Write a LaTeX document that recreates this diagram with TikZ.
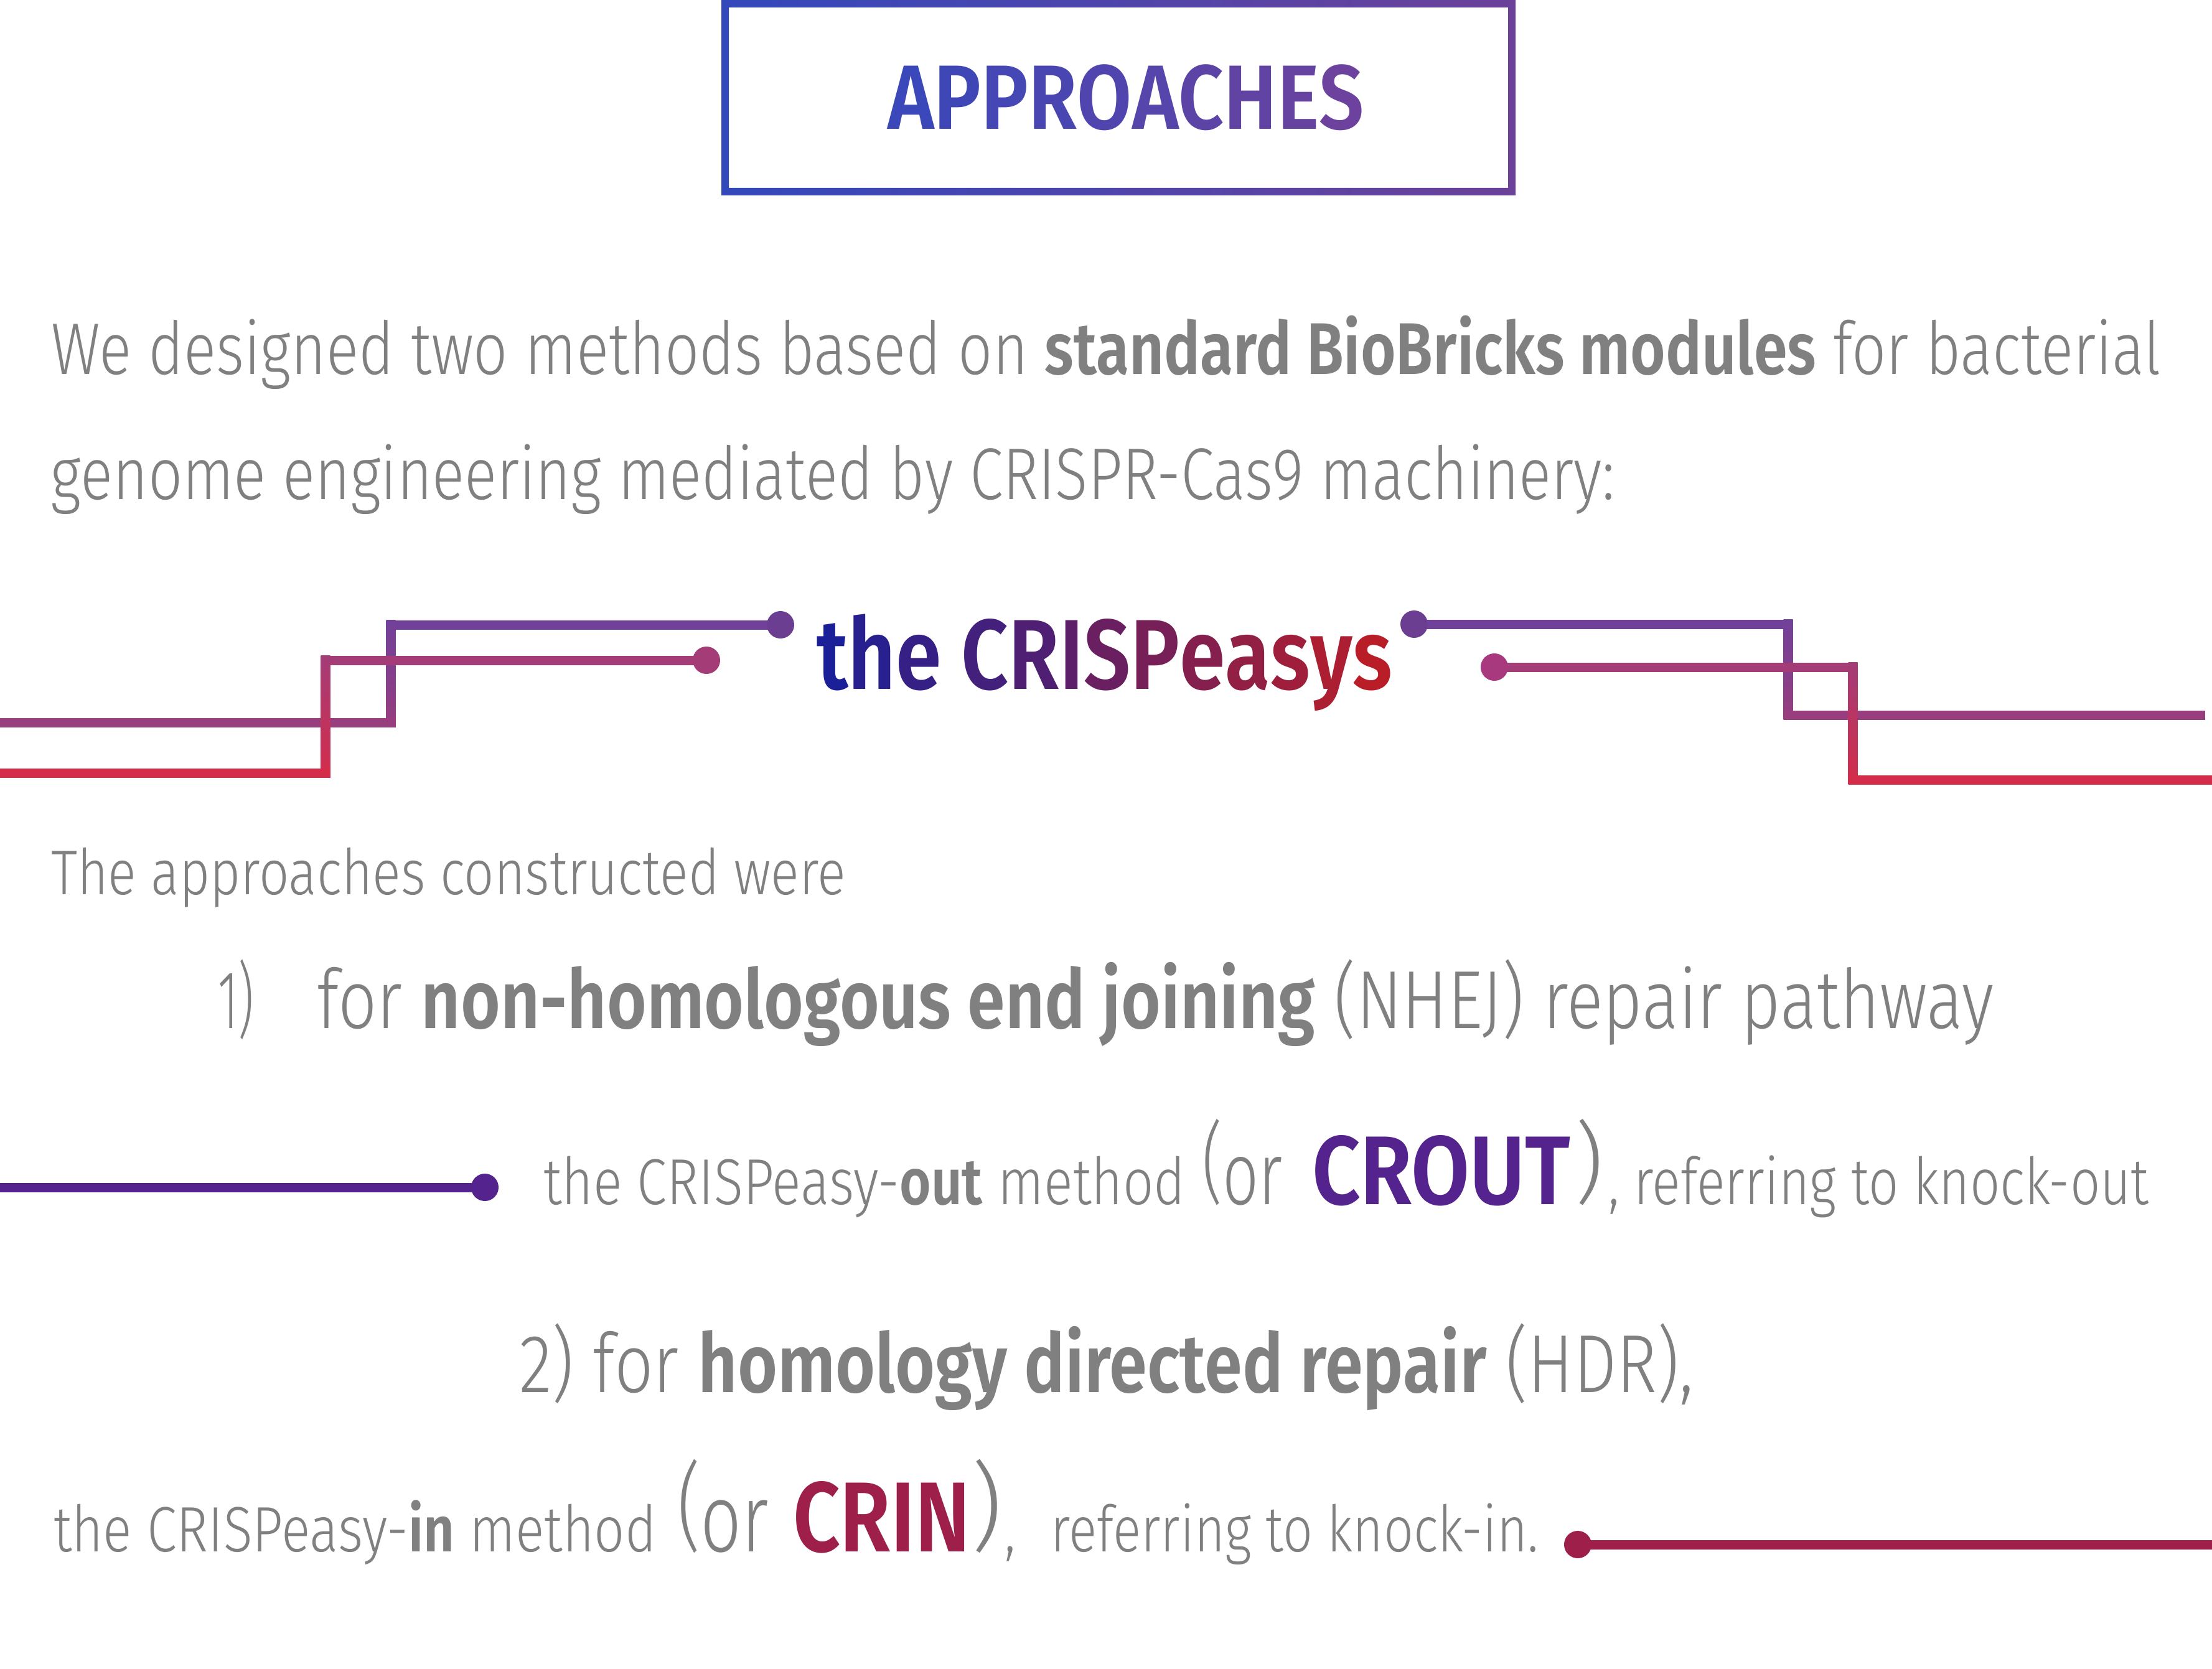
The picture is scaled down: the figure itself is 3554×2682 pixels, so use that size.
\documentclass[tikz,border=0pt]{standalone}
\usepackage{fontspec}
\setmainfont{Fira Sans Light}[BoldFont={Fira Sans SemiBold}]
\usepackage{graphicx}
\usetikzlibrary{calc}
\definecolor{txtgray}{RGB}{128,128,128}
\definecolor{gA}{RGB}{27,32,152}
\definecolor{gB}{RGB}{185,30,40}
\definecolor{apA}{RGB}{58,72,186}
\definecolor{apB}{RGB}{108,66,158}
\definecolor{frA}{RGB}{51,72,187}
\definecolor{frB}{RGB}{107,65,153}
\definecolor{purpTop}{RGB}{113,65,154}
\definecolor{purpBot}{RGB}{152,61,126}
\definecolor{pinkTop}{RGB}{163,60,119}
\definecolor{pinkBot}{RGB}{212,45,74}
\definecolor{croutc}{RGB}{85,35,141}
\definecolor{crinc}{RGB}{158,31,74}
\newcommand\myfit[3]{\resizebox{#1}{\height}{\fontsize{#2}{#2}\selectfont #3}}
\newcommand\mysz[2]{{\fontsize{#1}{#1}\selectfont #2}}
\newcommand\uppar[1]{\raisebox{0.12em}{#1}}
\tikzset{
  txt/.style={anchor=base west, inner sep=0pt, outer sep=0pt, text=txtgray},
  hline/.style={line width=0.15cm},
}
\begin{document}
\begin{tikzpicture}[x=0.01cm,y=-0.01cm]
\useasboundingbox (0,0) rectangle (3554,2682);
\fill[white] (0,0) rectangle (3554,2682);

% ---- title frame
\coordinate (frtl) at (1159,0); \coordinate (frbr) at (2435,314);
\coordinate (fitl) at (1171,12); \coordinate (fibr) at (2423,302);
\shade[left color=frA, right color=frB, even odd rule] (frtl) rectangle (frbr) (fitl) rectangle (fibr);
\node[txt] (title) at (1426,208) {\myfit{7.65cm}{41.7pt}{\bfseries
  \textcolor{apA}{A}\textcolor{apA!89!apB}{P}\textcolor{apA!78!apB}{P}\textcolor{apA!67!apB}{R}\textcolor{apA!56!apB}{O}\textcolor{apA!44!apB}{A}\textcolor{apA!33!apB}{C}\textcolor{apA!22!apB}{H}\textcolor{apA!11!apB}{E}\textcolor{apB}{S}}};

% ---- intro text
\node[txt] (l1) at (82,601) {\myfit{33.88cm}{33.45pt}{We designed two methods based on \textbf{standard BioBricks modules} for bacterial}};
\node[txt] (l2) at (82,802) {\myfit{25.11cm}{33.45pt}{genome engineering mediated by CRISPR-Cas9 machinery:}};

% ---- brand
\node[txt] (brand) at (1312,1107) {\myfit{9.24cm}{45.4pt}{\bfseries
  \textcolor{gA}{t}\textcolor{gA!92!gB}{h}\textcolor{gA!83!gB}{e} \textcolor{gA!75!gB}{C}\textcolor{gA!67!gB}{R}\textcolor{gA!58!gB}{I}\textcolor{gA!50!gB}{S}\textcolor{gA!42!gB}{P}\textcolor{gA!33!gB}{e}\textcolor{gA!25!gB}{a}\textcolor{gA!17!gB}{s}\textcolor{gA!8!gB}{y}\textcolor{gB}{s}}};

% ---- step lines (left)
\coordinate (p1dot) at (1254,1004); \coordinate (p1a) at (628,1004);
\coordinate (p1b) at (628,1161);   \coordinate (p1end) at (0,1161);
\coordinate (p2dot) at (1135,1061); \coordinate (p2a) at (523,1061);
\coordinate (p2b) at (523,1242);   \coordinate (p2end) at (0,1242);
% ---- step lines (right)
\coordinate (p3dot) at (2272,1003); \coordinate (p3a) at (2873,1003);
\coordinate (p3b) at (2873,1149);  \coordinate (p3end) at (3543,1149);
\coordinate (p4dot) at (2401,1072); \coordinate (p4a) at (2977,1072);
\coordinate (p4b) at (2977,1253);  \coordinate (p4end) at (3554,1253);

% purple paths
\draw[hline, purpTop] (p1dot) -- ([xshift=-0.075cm]p1a);
\shade[top color=purpTop, bottom color=purpBot] ([xshift=-0.075cm,yshift=0.075cm]p1a) rectangle ([xshift=0.075cm,yshift=-0.075cm]p1b);
\draw[hline, purpBot] ([xshift=0.075cm]p1b) -- (p1end);
\fill[purpTop!95!black] (p1dot) circle[radius=0.22cm];

\draw[hline, purpTop] (p3dot) -- ([xshift=0.075cm]p3a);
\shade[top color=purpTop, bottom color=purpBot] ([xshift=-0.075cm,yshift=0.075cm]p3a) rectangle ([xshift=0.075cm,yshift=-0.075cm]p3b);
\draw[hline, purpBot] ([xshift=-0.075cm]p3b) -- (p3end);
\fill[purpTop!95!black] (p3dot) circle[radius=0.22cm];

% pink paths
\draw[hline, pinkTop] (p2dot) -- ([xshift=-0.075cm]p2a);
\shade[top color=pinkTop, bottom color=pinkBot] ([xshift=-0.075cm,yshift=0.075cm]p2a) rectangle ([xshift=0.075cm,yshift=-0.075cm]p2b);
\draw[hline, pinkBot] ([xshift=0.075cm]p2b) -- (p2end);
\fill[pinkTop] (p2dot) circle[radius=0.22cm];

\draw[hline, pinkTop] (p4dot) -- ([xshift=0.075cm]p4a);
\shade[top color=pinkTop, bottom color=pinkBot] ([xshift=-0.075cm,yshift=0.075cm]p4a) rectangle ([xshift=0.075cm,yshift=-0.075cm]p4b);
\draw[hline, pinkBot] ([xshift=-0.075cm]p4b) -- (p4end);
\fill[pinkTop!95!magenta] (p4dot) circle[radius=0.22cm];

% ---- approaches
\node[txt] (intro) at (82,1437) {\myfit{12.76cm}{28.9pt}{The approaches constructed were}};
\node[txt] (n1) at (350,1652) {\myfit{0.58cm}{37.6pt}{1)}};
\node[txt] (n1t) at (509,1652) {\myfit{26.93cm}{37.6pt}{for \textbf{non-homologous end joining} (NHEJ) repair pathway}};

% CROUT line
\coordinate (crl) at (0,1908); \coordinate (crdot) at (779,1908);
\draw[hline, croutc] (crl) -- (crdot);
\fill[croutc] (crdot) circle[radius=0.22cm];
\node[txt] (oa) at (873,1935) {\myfit{10.31cm}{29.7pt}{the CRISPeasy-\textbf{out} method}};
\node[txt] (ob) at (1931,1935) {\myfit{1.29cm}{40.5pt}{\uppar{(}or}};
\node[txt, text=croutc] (oc) at (2108,1935) {\myfit{4.15cm}{44.6pt}{\bfseries CROUT}};
\node[txt] (od) at (2530,1935) {\mysz{40.5pt}{\uppar{)}}};
\node[txt] (oe) at (2584,1935) {\myfit{8.68cm}{29.7pt}{, referring to knock-out}};

% HDR
\node[txt] (h2) at (834,2237) {\myfit{18.86cm}{37.6pt}{2) for \textbf{homology directed repair} (HDR),}};

% CRIN line
\node[txt] (ia) at (86,2493) {\myfit{9.68cm}{29.3pt}{the CRISPeasy-\textbf{in} method}};
\node[txt] (ib) at (1088,2493) {\myfit{1.47cm}{44pt}{\uppar{(}or}};
\node[txt, text=crinc] (ic) at (1274,2493) {\myfit{2.85cm}{45.4pt}{\bfseries CRIN}};
\node[txt] (id) at (1560,2493) {\mysz{44pt}{\uppar{)}}};
\node[txt] (ie) at (1614,2493) {\myfit{8.57cm}{29.3pt}{,\hspace{0.4em} referring to knock-in.}};
\coordinate (crindot) at (2535,2482); \coordinate (crinr) at (3554,2482);
\draw[hline, crinc] (crindot) -- (crinr);
\fill[crinc] (crindot) circle[radius=0.22cm];
\end{tikzpicture}
\end{document}
